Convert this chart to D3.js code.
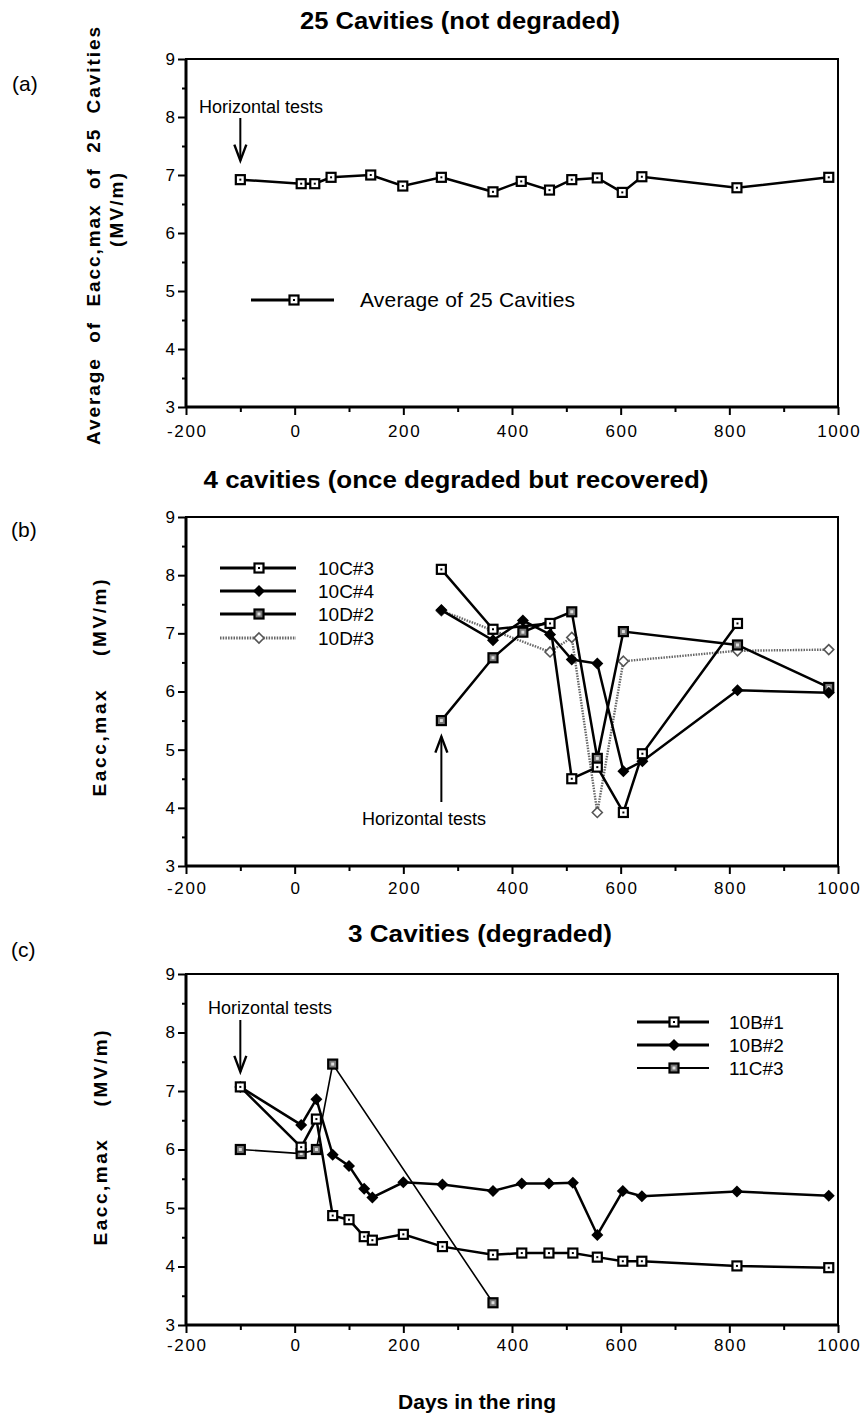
<!DOCTYPE html>
<html>
<head>
<meta charset="utf-8">
<script src="https://cdn.jsdelivr.net/npm/d3@7"></script>
<style>
body { margin: 0; background: #fff; }
svg { display: block; }
text { font-family: "Liberation Sans", Arial, Helvetica, sans-serif; fill: #000; }
</style>
</head>
<body>
<div id="chart"></div>
<script>
// ---- data ----
// (a) average of 25 cavities
const daysA = [-100, 12, 37, 67, 140, 199, 270, 365, 417, 469, 510, 557, 603, 639, 814, 983];
const avgA  = [6.92, 6.85, 6.85, 6.96, 7.00, 6.81, 6.96, 6.71, 6.89, 6.74, 6.92, 6.95, 6.70, 6.97, 6.78, 6.96];

// (b) 4 cavities once degraded but recovered
const daysB = [270, 365, 420, 470, 510, 557, 605, 640, 815, 983];
const cav10C3 = [8.10, 7.07, null, 7.17, 4.50, 4.70, 3.92, 4.93, 7.17, null];
const cav10C4 = [7.40, 6.88, 7.22, 6.98, 6.55, 6.48, 4.63, 4.80, 6.02, 5.98];
const cav10D2 = [5.50, 6.58, 7.02, null, 7.37, 4.85, 7.03, null, 6.80, 6.07];
const cav10D3 = [7.39, 7.05, null, 6.68, 6.93, 3.92, 6.52, null, 6.70, 6.72];

// (c) 3 degraded cavities
const daysC = [-100, 12, 40, 70, 100, 128, 143, 200, 272, 365, 418, 468, 512, 557, 604, 639, 814, 983];
const cav10B1 = [7.07, 6.04, 6.52, 4.87, 4.80, 4.51, 4.45, 4.55, 4.34, 4.20, 4.23, 4.23, 4.23, 4.16, 4.09, 4.09, 4.01, 3.98];
const cav10B2 = [7.07, 6.42, 6.86, 5.91, 5.72, 5.33, 5.18, 5.44, 5.40, 5.29, 5.42, 5.42, 5.43, 4.54, 5.29, 5.20, 5.28, 5.21];
const cav11C3 = [6.00, 5.93, 6.00, 7.46, null, null, null, null, null, 3.38, null, null, null, null, null, null, null, null];

const xTicks = [-200, 0, 200, 400, 600, 800, 1000];
const xMinor = [-100, 100, 300, 500, 700, 900];
const yTicks = [3, 4, 5, 6, 7, 8, 9];
const yMinor = [3.5, 4.5, 5.5, 6.5, 7.5, 8.5];

// ---- layout ----
const width = 862, height = 1415;
const X0 = 186, X1 = 838;

const svg = d3.select("#chart").append("svg")
  .attr("width", width)
  .attr("height", height);

const x = d3.scaleLinear().domain([-200, 1000]).range([X0, X1]);

// draws the box, ticks and labels of one panel, returns y scale
function panel(top, bottom, labelGap) {
  const y = d3.scaleLinear().domain([3, 9]).range([bottom, top]);
  const g = svg.append("g");

  g.append("g").attr("transform", `translate(0,${bottom})`)
    .call(d3.axisBottom(x).tickValues(xMinor).tickSize(5).tickFormat(""));
  const xa = g.append("g").attr("transform", `translate(0,${bottom})`)
    .call(d3.axisBottom(x).tickValues(xTicks).tickSize(8).tickPadding(labelGap).tickFormat(d => String(d)));
  xa.selectAll("text").attr("font-size", 17).attr("letter-spacing", 1.6).attr("dx", 0.8)
    .attr("font-family", "Liberation Sans, Arial, sans-serif");

  g.append("g").attr("transform", `translate(${X0},0)`)
    .call(d3.axisLeft(y).tickValues(yMinor).tickSize(4).tickFormat(""));
  const ya = g.append("g").attr("transform", `translate(${X0},0)`)
    .call(d3.axisLeft(y).tickValues(yTicks).tickSize(8).tickPadding(3).tickFormat(d3.format("d")));
  ya.selectAll("text").attr("font-size", 17)
    .attr("font-family", "Liberation Sans, Arial, sans-serif");

  g.selectAll(".domain").remove();
  g.selectAll(".tick line").attr("stroke", "#000").attr("stroke-width", 2);

  // frame
  g.append("rect")
    .attr("x", X0).attr("y", top)
    .attr("width", X1 - X0).attr("height", bottom - top)
    .attr("fill", "none").attr("stroke", "#000").attr("stroke-width", 2);
  g.append("line").attr("x1", X0).attr("x2", X0).attr("y1", top).attr("y2", bottom)
    .attr("stroke", "#000").attr("stroke-width", 3);
  g.append("line").attr("x1", X0).attr("x2", X1).attr("y1", bottom).attr("y2", bottom)
    .attr("stroke", "#000").attr("stroke-width", 3);
  return y;
}

function marker(sel, type) {
  if (type === "sq") {
    sel.append("rect").attr("x", -4.5).attr("y", -4.5).attr("width", 9).attr("height", 9)
      .attr("fill", "#fff").attr("stroke", "#000").attr("stroke-width", 2.2);
    sel.append("rect").attr("x", -1).attr("y", -1).attr("width", 2).attr("height", 2).attr("fill", "#000");
  } else if (type === "sqd") {
    sel.append("rect").attr("x", -4.5).attr("y", -4.5).attr("width", 9).attr("height", 9)
      .attr("fill", "#777").attr("stroke", "#000").attr("stroke-width", 2.2);
    sel.append("rect").attr("x", -1.5).attr("y", -1.5).attr("width", 3).attr("height", 3).attr("fill", "#ddd");
  } else if (type === "dia") {
    sel.append("path").attr("d", "M0,-6L6,0L0,6L-6,0Z").attr("fill", "#000");
  } else if (type === "odia") {
    sel.append("path").attr("d", "M0,-5L5,0L0,5L-5,0Z")
      .attr("fill", "#fff").attr("stroke", "#555").attr("stroke-width", 1.6);
  }
}

function series(y, days, vals, st) {
  const pts = days.map((d, i) => [d, vals[i]]).filter(p => p[1] != null);
  const line = d3.line().x(p => x(p[0])).y(p => y(p[1]));
  svg.append("path").datum(pts)
    .attr("d", line)
    .attr("fill", "none")
    .attr("stroke", st.color)
    .attr("stroke-width", st.w)
    .attr("stroke-dasharray", st.dash || null);
  svg.append("g").selectAll("g").data(pts).join("g")
    .attr("transform", p => `translate(${x(p[0])},${y(p[1])})`)
    .each(function () { marker(d3.select(this), st.m); });
}

function legend(items, lx1, lx2, tx, ys) {
  items.forEach((st, i) => {
    svg.append("line").attr("x1", lx1).attr("x2", lx2).attr("y1", ys[i]).attr("y2", ys[i])
      .attr("stroke", st.color).attr("stroke-width", st.w + 0.5)
      .attr("stroke-dasharray", st.dash || null);
    const g = svg.append("g").attr("transform", `translate(${(lx1 + lx2) / 2 + 1},${ys[i]})`);
    marker(g, st.m);
    svg.append("text").attr("x", tx).attr("y", ys[i] + 7).attr("font-size", 19).text(st.name);
  });
}

// arrow with open head, tip at (ax, tipY)
function arrow(ax, fromY, tipY) {
  const s = tipY > fromY ? -1 : 1;
  svg.append("line").attr("x1", ax).attr("x2", ax).attr("y1", fromY).attr("y2", tipY)
    .attr("stroke", "#000").attr("stroke-width", 2);
  svg.append("path")
    .attr("d", `M${ax - 6},${tipY + s * 16}L${ax},${tipY}L${ax + 6},${tipY + s * 16}`)
    .attr("fill", "none").attr("stroke", "#000").attr("stroke-width", 2.4);
}

function title(txt, cx, yb, len) {
  svg.append("text").attr("x", cx).attr("y", yb).attr("text-anchor", "middle")
    .attr("font-size", 23).attr("font-weight", "bold")
    .attr("textLength", len).attr("lengthAdjust", "spacingAndGlyphs").text(txt);
}

function ylabel(txt, bx, cy, len, size) {
  svg.append("text")
    .attr("transform", `translate(${bx},${cy}) rotate(-90)`)
    .attr("text-anchor", "middle").attr("font-size", size).attr("font-weight", "bold")
    .attr("textLength", len).attr("lengthAdjust", "spacing")
    .attr("xml:space", "preserve")
    .text(txt);
}

function tag(txt, tx, ty) {
  svg.append("text").attr("x", tx).attr("y", ty)
    .attr("font-family", "Liberation Serif, Times New Roman, serif")
    .attr("font-size", 21).text(txt);
}

const solid = { color: "#000", w: 2.5 };

// ---------- (a) ----------
const yA = panel(59, 407, 10);
title("25 Cavities (not degraded)", 460, 29, 320);
tag("(a)", 12, 91);
ylabel("Average  of  Eacc,max  of  25  Cavities", 100, 236, 418, 19);
ylabel("(MV/m)", 123, 210, 74, 19);
const stA = { name: "Average of 25 Cavities", m: "sq", ...solid };
series(yA, daysA, avgA, stA);
svg.append("line").attr("x1", 251).attr("x2", 334).attr("y1", 300).attr("y2", 300)
  .attr("stroke", "#000").attr("stroke-width", 3);
marker(svg.append("g").attr("transform", "translate(294,300)"), "sq");
svg.append("text").attr("x", 360).attr("y", 307).attr("font-size", 21)
  .attr("textLength", 215).text("Average of 25 Cavities");
svg.append("text").attr("x", 199).attr("y", 113).attr("font-size", 18).text("Horizontal tests");
arrow(x(daysA[0]), 118, yA(avgA[0]) - 19);

// ---------- (b) ----------
const yB = panel(517, 866, 8);
title("4 cavities (once degraded but recovered)", 456, 488, 505);
tag("(b)", 11, 537);
ylabel("Eacc,max    (MV/m)", 106, 688, 217, 19);
const stB = [
  { name: "10C#3", m: "sq", ...solid },
  { name: "10C#4", m: "dia", ...solid },
  { name: "10D#2", m: "sqd", ...solid },
  { name: "10D#3", m: "odia", color: "#666", w: 2.4, dash: "1.5,1.2" }
];
series(yB, daysB, cav10D3, stB[3]);
series(yB, daysB, cav10D2, stB[2]);
series(yB, daysB, cav10C4, stB[1]);
series(yB, daysB, cav10C3, stB[0]);
legend(stB, 220, 296, 318, [568, 591, 614, 638]);
arrow(x(daysB[0]), 802, yB(cav10D2[0]) + 16);
svg.append("text").attr("x", 362).attr("y", 825).attr("font-size", 18).text("Horizontal tests");

// ---------- (c) ----------
const yC = panel(974, 1325, 6);
title("3 Cavities (degraded)", 480, 942, 264);
tag("(c)", 11, 957);
ylabel("Eacc,max    (MV/m)", 107, 1138, 215, 19);
const stC = [
  { name: "10B#1", m: "sq", ...solid },
  { name: "10B#2", m: "dia", ...solid },
  { name: "11C#3", m: "sqd", color: "#000", w: 1.6 }
];
series(yC, daysC, cav11C3, stC[2]);
series(yC, daysC, cav10B2, stC[1]);
series(yC, daysC, cav10B1, stC[0]);
legend(stC, 637, 709, 729, [1022, 1045, 1068]);
svg.append("text").attr("x", 208).attr("y", 1014).attr("font-size", 18).text("Horizontal tests");
arrow(x(daysC[0]), 1020, yC(cav10B1[0]) - 15);

svg.append("text").attr("x", 477).attr("y", 1409).attr("text-anchor", "middle")
  .attr("font-size", 21).attr("font-weight", "bold").attr("textLength", 158)
  .text("Days in the ring");
</script>
</body>
</html>
